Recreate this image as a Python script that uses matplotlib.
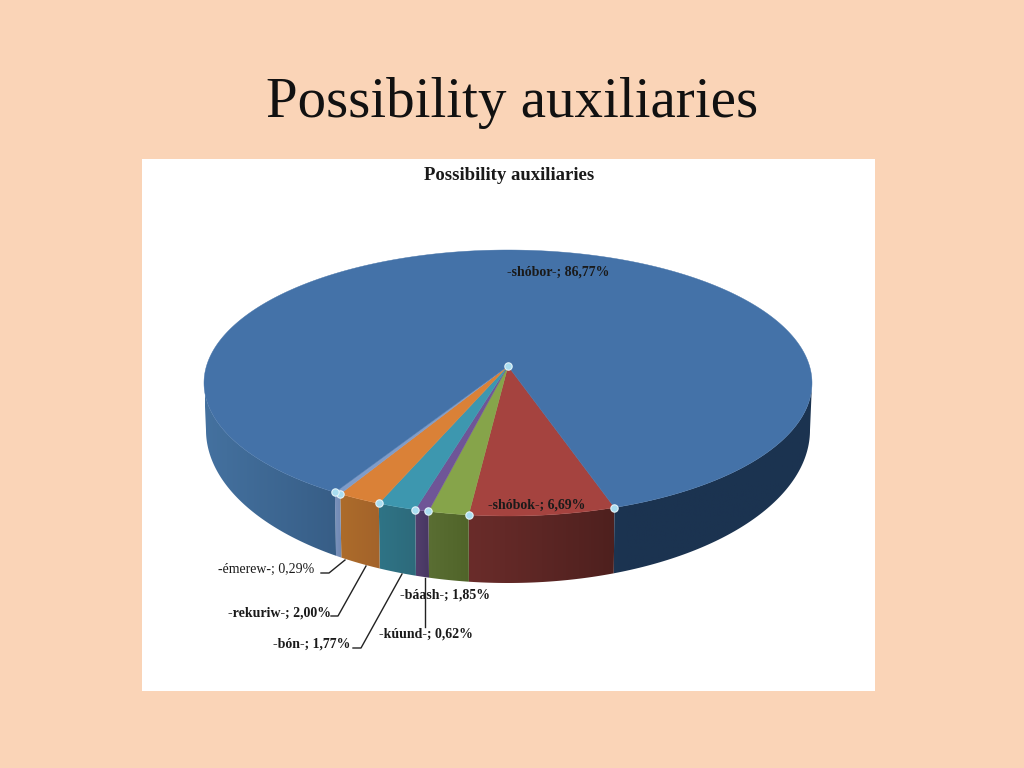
import numpy as np
import matplotlib
matplotlib.use("Agg")
import matplotlib.pyplot as plt
from matplotlib.colors import to_rgb
from matplotlib.patches import Polygon

# pie data, from the front going left
names = ['-shóbok-', '-báash-', '-kúund-', '-bón-', '-rekuriw-', '-émerew-', '-shóbor-']
values = [6.69, 1.85, 0.62, 1.77, 2.00, 0.29, 86.77]

top_colors = ['#A5433F', '#86A44A', '#6F5597', '#3D97AF', '#DA8137', '#7F9CC9', '#4472A8']
side_left = ['#6A2C2A', '#5A6E33', '#54406F', '#2F7486', '#AD6C2B', '#7C93BC', '#44719F']
side_right = ['#4E201E', '#506429', '#463660', '#2D6A7B', '#A3632A', '#6F88B3', '#1B3350']

# ellipses of the rim and the base, in pixels
cx, cy, a, b = 508, 383, 304, 133
bx, by, ba, bb = 508, 430, 302, 153
apex = (508, 366)
start = 20.5
stretch = 1.16  # perspective makes the front slices look wider


def rim(t):
    t = np.radians(t)
    return cx + a * np.sin(t), cy + b * np.cos(t)


def base(t):
    t = np.radians(t)
    return bx + ba * np.sin(t), by + bb * np.cos(t)


fig = plt.figure(figsize=(10.24, 7.68), dpi=100, facecolor='#FAD4B7')
ax = fig.add_axes([0, 0, 1, 1])

ax.fill([142, 875, 875, 142], [159, 159, 691, 691], color='white', lw=0, zorder=0)

# slice limits on the rim
edges = [start]
for v in values[:-1]:
    edges.append(edges[-1] - v * 3.6 * stretch)
edges.append(start - 360)

# side wall, only the front half can be seen
for i in range(len(values)):
    t0, t1 = edges[i + 1], edges[i]
    c0 = np.array(to_rgb(side_left[i]))
    c1 = np.array(to_rgb(side_right[i]))
    if values[i] > 50:
        ranges = [(-90, t1), (t0, -270)]
    else:
        ranges = [(t0, t1)]
    for lo, hi in ranges:
        ts = np.linspace(lo, hi, 80)
        rx, ry = rim(ts)
        qx, qy = base(ts)
        outline = np.c_[np.r_[rx, qx[::-1]], np.r_[ry, qy[::-1]]]
        # gradient in x, clipped to the wall outline
        if values[i] > 50:
            grad = np.clip(np.linspace(0, 625, 256) / 420, 0, 1)[None, :, None]
            ext = [205, 830, 600, 370]
        else:
            grad = np.linspace(0, 1, 64)[None, :, None]
            ext = [rx.min() - 1, rx.max() + 1, 600, 370]
        im = ax.imshow(c0 + (c1 - c0) * grad, extent=ext, aspect='auto', zorder=1)
        patch = Polygon(outline, closed=True, transform=ax.transData, fc='none', ec='none')
        ax.add_patch(patch)
        im.set_clip_path(patch)

# top face
for i in range(len(values)):
    ts = np.linspace(edges[i], edges[i + 1], 400 if values[i] > 50 else 20)
    xs, ys = rim(ts)
    ax.fill(np.r_[apex[0], xs], np.r_[apex[1], ys], color=top_colors[i], lw=0.3, zorder=2)

# handles
px, py = rim(np.array(edges[:-1]))
ax.scatter(np.r_[apex[0], px], np.r_[apex[1], py], s=28, c='#A9DDF0', edgecolors='#E4F4FA',
           linewidths=0.8, zorder=4)

# labels
label_pos = [(537, 505), (445, 595), (426, 634), (312, 644), (279, 613), (266, 569), (558, 272)]
bold = [True, True, True, True, True, False, True]
for n, v, p, w in zip(names, values, label_pos, bold):
    txt = '%s; %s%%' % (n, ('%.2f' % v).replace('.', ','))
    ax.text(p[0], p[1], txt, family='Liberation Serif', fontsize=10, color='#1a1a1a',
            weight='bold' if w else 'normal', ha='center', va='center', zorder=5)

# leader lines
leaders = [([321, 329, 345], [573, 573, 560]),
           ([331, 338, 366], [616, 616, 566]),
           ([353, 361, 402], [648, 648, 574]),
           ([425, 425], [627, 578])]
for lx, ly in leaders:
    ax.plot(lx, ly, color='#222222', lw=1, zorder=5)

ax.text(509, 175, 'Possibility auxiliaries', family='Liberation Serif', fontsize=13.5,
        weight='bold', color='#1a1a1a', ha='center', va='center')
ax.text(512, 117, 'Possibility auxiliaries', family='Liberation Serif', fontsize=41,
        color='#111111', ha='center', va='baseline')

ax.set_xlim(0, 1024)
ax.set_ylim(768, 0)
ax.axis('off')

fig.savefig('out.png', dpi=100, facecolor=fig.get_facecolor())
